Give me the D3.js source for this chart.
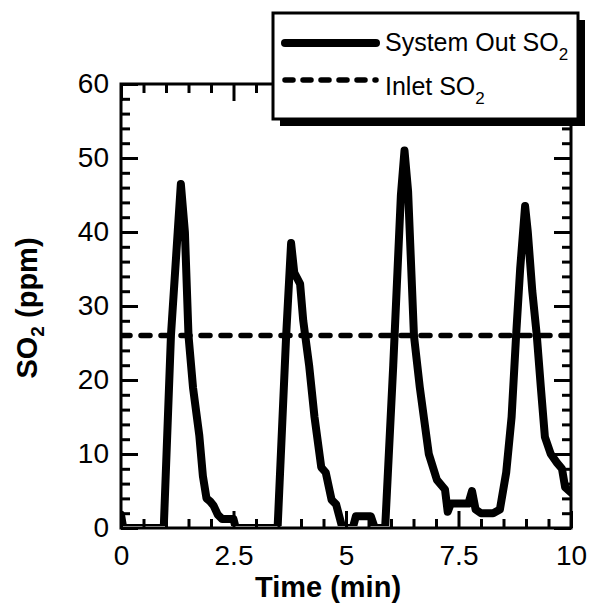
<!DOCTYPE html>
<html>
<head>
<meta charset="utf-8">
<script src="https://cdnjs.cloudflare.com/ajax/libs/d3/7.8.5/d3.min.js"></script>
<style>
  body { margin: 0; background: #fff; }
  svg { display: block; font-family: "Liberation Sans", Arial, Helvetica, sans-serif; }
</style>
</head>
<body>
<script>
// values (time in min, SO2 in ppm)
var timeMin = [0, 0.05, 0.95, 1.11, 1.26, 1.33, 1.42, 1.50, 1.60, 1.74, 1.82, 1.90, 1.98, 2.06, 2.15, 2.25, 2.50, 2.55,
  3.48, 3.67, 3.78, 3.85, 3.98, 4.05, 4.18, 4.30, 4.45, 4.55, 4.68, 4.78, 4.92,
  5.15, 5.22, 5.55, 5.64, 5.87, 6.05, 6.22, 6.30, 6.38, 6.51, 6.64, 6.84, 7.02, 7.20, 7.26, 7.33, 7.72, 7.80, 7.88, 8.00, 8.27,
  8.42, 8.56, 8.68, 8.78, 8.87, 8.98, 9.04, 9.14, 9.24, 9.33, 9.42, 9.55, 9.69, 9.80, 9.87, 10];
var so2Out = [1.8, 0, 0, 26, 40, 46.5, 40, 26, 19, 12.5, 7, 4, 3.6, 3.0, 1.8, 1.2, 1.2, 0,
  0, 26, 38.5, 34.5, 33, 28, 22, 15, 8.2, 7.5, 3.8, 3.2, 0,
  0, 1.6, 1.6, 0, 0, 22, 45, 51, 45.5, 26, 19, 10, 6.5, 5.2, 2.2, 3.3, 3.3, 5, 2.5, 2, 2,
  2.5, 7.5, 15, 26, 35, 43.5, 40, 32, 26, 19, 12.3, 10, 8.8, 8, 5.5, 4.8];
var inletSO2 = 26;

var xTicks = [0, 2.5, 5, 7.5, 10];
var xTickLabels = ["0", "2.5", "5", "7.5", "10"];
var yTicks = [0, 10, 20, 30, 40, 50, 60];
var legendNames = ["System Out SO", "Inlet SO"];

var width = 591, height = 604;
var plotLeft = 121, plotRight = 571, plotTop = 84, plotBottom = 528;

var svg = d3.select("body").append("svg")
    .attr("width", width)
    .attr("height", height);

var x = d3.scaleLinear().domain([0, 10]).range([plotLeft, plotRight]);
var y = d3.scaleLinear().domain([0, 60]).range([plotBottom, plotTop]);

var xMinor = d3.range(0, 10.01, 0.5).filter(function(d){ return xTicks.indexOf(d) < 0; });
var yMinor = d3.range(0, 60.01, 2).filter(function(d){ return yTicks.indexOf(d) < 0; });

// ticks point inward on all four sides
svg.append("g").attr("transform", "translate(0," + plotBottom + ")")
  .call(d3.axisBottom(x).tickValues(xTicks).tickSizeInner(-17).tickSizeOuter(0).tickPadding(17)
    .tickFormat(function(d, i){ return xTickLabels[i]; }));
svg.append("g").attr("transform", "translate(0," + plotBottom + ")")
  .call(d3.axisBottom(x).tickValues(xMinor).tickSizeInner(-9).tickSizeOuter(0).tickFormat(""));
svg.append("g").attr("transform", "translate(0," + plotTop + ")")
  .call(d3.axisTop(x).tickValues(xTicks).tickSizeInner(-17).tickSizeOuter(0).tickFormat(""));
svg.append("g").attr("transform", "translate(0," + plotTop + ")")
  .call(d3.axisTop(x).tickValues(xMinor).tickSizeInner(-9).tickSizeOuter(0).tickFormat(""));

svg.append("g").attr("transform", "translate(" + plotLeft + ",0)")
  .call(d3.axisLeft(y).tickValues(yTicks).tickSizeInner(-17).tickSizeOuter(0).tickPadding(12)
    .tickFormat(d3.format("d")));
svg.append("g").attr("transform", "translate(" + plotLeft + ",0)")
  .call(d3.axisLeft(y).tickValues(yMinor).tickSizeInner(-9).tickSizeOuter(0).tickFormat(""));
svg.append("g").attr("transform", "translate(" + plotRight + ",0)")
  .call(d3.axisRight(y).tickValues(yTicks).tickSizeInner(-17).tickSizeOuter(0).tickFormat(""));
svg.append("g").attr("transform", "translate(" + plotRight + ",0)")
  .call(d3.axisRight(y).tickValues(yMinor).tickSizeInner(-9).tickSizeOuter(0).tickFormat(""));

svg.selectAll(".domain").remove();
svg.selectAll(".tick line").attr("stroke", "#000").attr("stroke-width", 3);
svg.selectAll(".tick text").attr("font-size", 28).attr("fill", "#000")
  .attr("font-family", "'Liberation Sans', Arial, sans-serif");

// frame
svg.append("rect")
  .attr("x", plotLeft).attr("y", plotTop)
  .attr("width", plotRight - plotLeft).attr("height", plotBottom - plotTop)
  .attr("fill", "none").attr("stroke", "#000").attr("stroke-width", 3);

// the trace at 0 hides under the bottom axis
svg.append("clipPath").attr("id", "plotclip")
  .append("rect").attr("x", plotLeft).attr("y", plotTop - 10)
  .attr("width", plotRight - plotLeft).attr("height", plotBottom - plotTop + 8);

var pts = timeMin.map(function(t, i){ return [t, so2Out[i]]; });
var line = d3.line().x(function(d){ return x(d[0]); }).y(function(d){ return y(d[1]); });

svg.append("line")
  .attr("x1", x(0)).attr("x2", x(10))
  .attr("y1", y(inletSO2)).attr("y2", y(inletSO2))
  .attr("stroke", "#000").attr("stroke-width", 5.5)
  .attr("stroke-dasharray", "9,11").attr("stroke-linecap", "round")
  .attr("clip-path", "url(#plotclip)");

svg.append("path")
  .datum(pts)
  .attr("d", line)
  .attr("fill", "none").attr("stroke", "#000")
  .attr("stroke-width", 8).attr("stroke-linejoin", "round").attr("stroke-linecap", "round")
  .attr("clip-path", "url(#plotclip)");

// axis titles
svg.append("text")
  .attr("x", 328).attr("y", 597)
  .attr("text-anchor", "middle")
  .attr("font-size", 29).attr("font-weight", "bold")
  .text("Time (min)");

var yt = svg.append("text")
  .attr("transform", "translate(37,308) rotate(-90)")
  .attr("text-anchor", "middle")
  .attr("font-size", 29).attr("font-weight", "bold");
yt.append("tspan").text("SO");
yt.append("tspan").attr("font-size", 19).attr("dy", 7).text("2");
yt.append("tspan").attr("dy", -7).text(" (ppm)");

// legend
var lg = svg.append("g");
lg.append("rect").attr("x", 280).attr("y", 20).attr("width", 305).attr("height", 106).attr("fill", "#000");
lg.append("rect").attr("x", 273).attr("y", 13).attr("width", 305).attr("height", 106)
  .attr("fill", "#fff").attr("stroke", "#000").attr("stroke-width", 3);

lg.append("line").attr("x1", 285).attr("x2", 376).attr("y1", 43).attr("y2", 43)
  .attr("stroke", "#000").attr("stroke-width", 8).attr("stroke-linecap", "round");
lg.append("line").attr("x1", 285).attr("x2", 376).attr("y1", 80).attr("y2", 80)
  .attr("stroke", "#000").attr("stroke-width", 5.5)
  .attr("stroke-dasharray", "8,10").attr("stroke-linecap", "round");

legendNames.forEach(function(name, i){
  var t = lg.append("text").attr("x", 385).attr("y", i == 0 ? 51 : 95)
    .attr("font-size", 25);
  t.append("tspan").text(name);
  t.append("tspan").attr("font-size", 17).attr("dy", 9).text("2");
});
</script>
</body>
</html>
